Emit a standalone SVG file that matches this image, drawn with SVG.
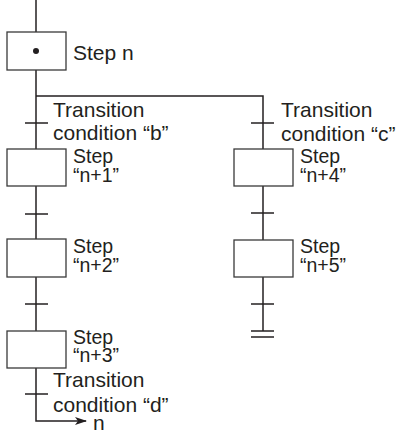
<svg xmlns="http://www.w3.org/2000/svg" width="399" height="437" viewBox="0 0 399 437">
<defs>
<style>
.ln{stroke:#231f20;stroke-width:1.5;fill:none}
.bx{stroke:#3a3a3a;stroke-width:1.3;fill:#fff}
.t{font-family:"Liberation Sans",Arial,sans-serif;font-size:21px;fill:#231f20}
.s{font-family:"Liberation Sans",Arial,sans-serif;font-size:19.5px;fill:#231f20}
</style>
<marker id="ah" markerWidth="12" markerHeight="8" refX="11" refY="4" orient="auto" markerUnits="userSpaceOnUse">
<path d="M0,0 L12,4 L0,8 L3,4 Z" fill="#231f20"/>
</marker>
</defs>
<g id="connectors">
<line class="ln" x1="36" y1="0" x2="36" y2="32"/>
<line class="ln" x1="36" y1="70" x2="36" y2="149"/>
<polyline class="ln" points="36,96 263,96 263,149"/>
<line class="ln" x1="25" y1="123" x2="48" y2="123"/>
<line class="ln" x1="251" y1="123" x2="274" y2="123"/>
<line class="ln" x1="36" y1="186" x2="36" y2="239"/>
<line class="ln" x1="25" y1="214" x2="48" y2="214"/>
<line class="ln" x1="36" y1="277" x2="36" y2="331"/>
<line class="ln" x1="25" y1="304" x2="48" y2="304"/>
<polyline class="ln" points="36,368 36,421 86,421" marker-end="url(#ah)"/>
<line class="ln" x1="25" y1="394" x2="48" y2="394"/>
<line class="ln" x1="263" y1="186" x2="263" y2="240"/>
<line class="ln" x1="251" y1="213" x2="274" y2="213"/>
<line class="ln" x1="263" y1="277" x2="263" y2="331"/>
<line class="ln" x1="251" y1="304" x2="274" y2="304"/>
<line class="ln" x1="251" y1="331" x2="274" y2="331"/>
<line class="ln" x1="251" y1="337" x2="274" y2="337"/>
<text class="t" x="53" y="117">Transition</text>
<text class="t" x="53" y="140">condition “b”</text>
<text class="t" x="281" y="117">Transition</text>
<text class="t" x="281" y="141">condition “c”</text>
<text class="t" x="53" y="387">Transition</text>
<text class="t" x="53" y="412">condition “d”</text>
<text class="t" x="93" y="430">n</text>
</g>
<g id="step-n">
<rect class="bx" x="7" y="32" width="59" height="38"/>
<circle cx="36" cy="51" r="3" fill="#231f20"/>
<text class="t" x="73" y="60">Step n</text>
</g>
<g id="step-n1">
<rect class="bx" x="7" y="149" width="59" height="37"/>
<text class="s" x="73" y="163">Step</text>
<text class="s" x="73" y="182">“n+1”</text>
</g>
<g id="step-n2">
<rect class="bx" x="7" y="239" width="59" height="38"/>
<text class="s" x="73" y="253">Step</text>
<text class="s" x="73" y="272">“n+2”</text>
</g>
<g id="step-n3">
<rect class="bx" x="7" y="331" width="59" height="37"/>
<text class="s" x="73" y="344">Step</text>
<text class="s" x="73" y="362">“n+3”</text>
</g>
<g id="step-n4">
<rect class="bx" x="234" y="149" width="59" height="37"/>
<text class="s" x="300" y="163">Step</text>
<text class="s" x="300" y="182">“n+4”</text>
</g>
<g id="step-n5">
<rect class="bx" x="234" y="240" width="59" height="37"/>
<text class="s" x="300" y="253">Step</text>
<text class="s" x="300" y="272">“n+5”</text>
</g>
</svg>
